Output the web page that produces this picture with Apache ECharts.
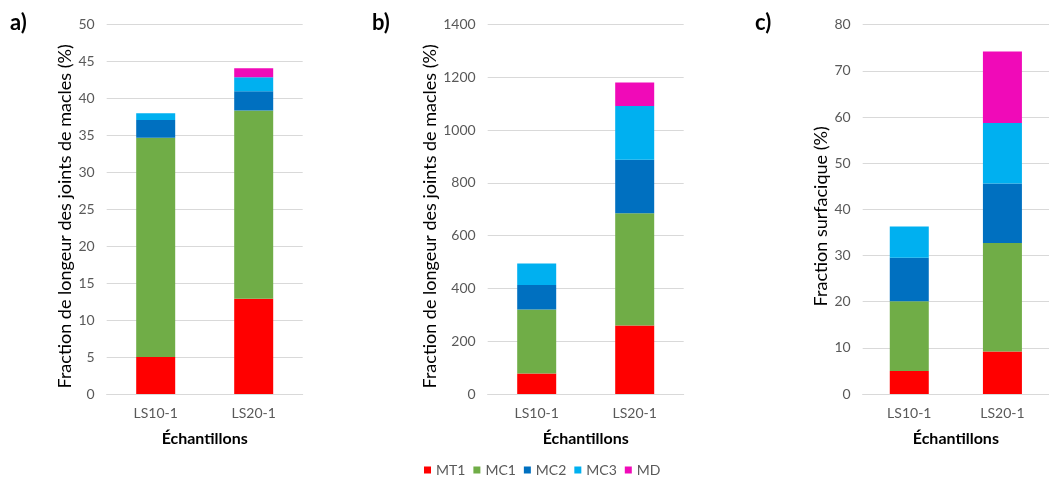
<!DOCTYPE html>
<html>
<head>
<meta charset="utf-8">
<script src="https://cdn.jsdelivr.net/npm/echarts@6/dist/echarts.min.js"></script>
<style>
html,body{margin:0;padding:0;background:#fff;}
#c{width:1049px;height:477px;}
</style>
</head>
<body>
<div id="c"></div>
<script>
// Data
const categories = ['LS10-1', 'LS20-1'];
const seriesNames = ['MT1', 'MC1', 'MC2', 'MC3', 'MD'];
// Panel a) Fraction de longeur des joints de macles (%)
const mt1A = [5.0, 12.9];
const mc1A = [29.7, 25.5];
const mc2A = [2.4, 2.6];
const mc3A = [0.9, 1.9];
const mdA  = [0, 1.2];
// Panel b)
const mt1B = [78, 260];
const mc1B = [242, 425];
const mc2B = [93, 203];
const mc3B = [82, 204];
const mdB  = [0, 89];
// Panel c) Fraction surfacique (%)
const mt1C = [5.0, 9.2];
const mc1C = [15.1, 23.5];
const mc2C = [9.4, 12.9];
const mc3C = [6.8, 13.1];
const mdC  = [0, 15.5];
// Axis settings
const yMaxes = [50, 1400, 80];
const yIntervals = [5, 200, 10];
const yTitles = ['Fraction de longeur des joints de macles (%)', 'Fraction de longeur des joints de macles (%)', 'Fraction surfacique (%)'];
const xTitle = 'Échantillons';
const panelLabels = ['a)', 'b)', 'c)'];

const colors = ['#FF0000', '#70AD47', '#0070C0', '#00B0F0', '#F00AB8'];
const panels = [[mt1A, mc1A, mc2A, mc3A, mdA], [mt1B, mc1B, mc2B, mc3B, mdB], [mt1C, mc1C, mc2C, mc3C, mdC]];

const FONT = 'Lato, "Open Sans", sans-serif';
const gridLefts = [106.7, 487.7, 862.7];
const grids = gridLefts.map(l => ({left: l, width: 196, top: 24.7, height: 369.3}));

const xAxes = grids.map((g, i) => ({
  type: 'category', gridIndex: i, data: categories,
  axisLine: {lineStyle: {color: '#d9d9d9', width: 1}},
  axisTick: {show: false},
  axisLabel: {color: '#595959', fontSize: 14, fontFamily: FONT, margin: 12},
  name: xTitle, nameLocation: 'middle', nameGap: 37,
  nameTextStyle: {color: '#000', fontSize: 16, fontWeight: 'bold', fontFamily: FONT}
}));
const yAxes = grids.map((g, i) => ({
  type: 'value', gridIndex: i, min: 0, max: yMaxes[i], interval: yIntervals[i],
  axisLine: {show: false}, axisTick: {show: false},
  splitLine: {lineStyle: {color: '#d9d9d9', width: 1}},
  axisLabel: {color: '#595959', fontSize: 14, fontFamily: FONT, margin: 12, formatter: v => String(v)},
  name: yTitles[i], nameLocation: 'middle', nameGap: 30,
  nameTextStyle: {color: '#000', fontSize: 18, fontFamily: FONT, padding: [0, 14, 0, 0]}
}));

const series = [];
panels.forEach((arrs, p) => {
  arrs.forEach((arr, k) => {
    series.push({
      type: 'bar', name: seriesNames[k], xAxisIndex: p, yAxisIndex: p,
      stack: 'p' + p, data: arr, barWidth: 39,
      itemStyle: {color: colors[k]}
    });
  });
});

const chart = echarts.init(document.getElementById('c'), null, {renderer: 'canvas'});
chart.setOption({
  animation: false,
  backgroundColor: '#fff',
  color: colors,
  grid: grids,
  xAxis: xAxes,
  yAxis: yAxes,
  legend: {
    data: seriesNames, top: 458, left: 419,
    itemWidth: 7, itemHeight: 7, itemGap: 8, icon: 'rect',
    textStyle: {color: '#595959', fontSize: 14, fontFamily: FONT}
  },
  graphic: [
    {type: 'text', left: 10, top: 12, style: {text: panelLabels[0], fontSize: 22, fontWeight: 'bold', fontFamily: FONT, fill: '#000'}},
    {type: 'text', left: 372, top: 12, style: {text: panelLabels[1], fontSize: 22, fontWeight: 'bold', fontFamily: FONT, fill: '#000'}},
    {type: 'text', left: 755, top: 12, style: {text: panelLabels[2], fontSize: 22, fontWeight: 'bold', fontFamily: FONT, fill: '#000'}}
  ],
  series: series
});
</script>
</body>
</html>
